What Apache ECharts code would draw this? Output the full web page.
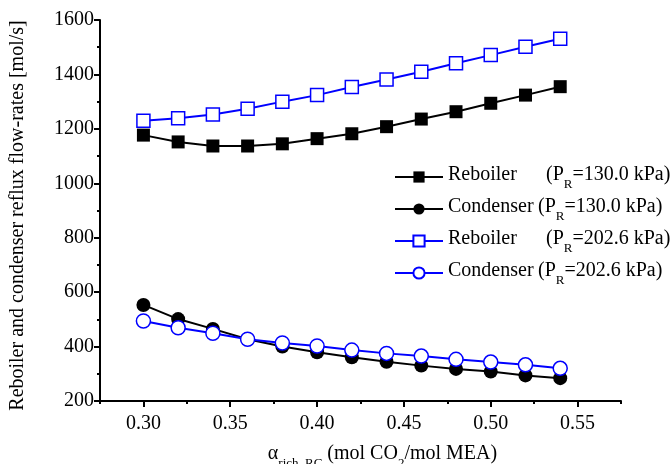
<!DOCTYPE html>
<html>
<head>
<meta charset="utf-8">
<script src="https://cdn.jsdelivr.net/npm/echarts@6/dist/echarts.min.js"></script>
<style>
  html, body { margin: 0; padding: 0; background: #fff; }
  #main { width: 670px; height: 464px; }
</style>
</head>
<body>
<div id="main"></div>
<script>
// x values (alpha rich, RC)
var alphaRich = [0.30, 0.32, 0.34, 0.36, 0.38, 0.40, 0.42, 0.44, 0.46, 0.48, 0.50, 0.52, 0.54];

// flow-rates [mol/s]
var reboiler130 = [1177, 1152, 1137, 1137, 1145, 1164, 1182, 1208, 1236, 1263, 1294, 1324, 1355];
var condenser130 = [553, 501, 465, 427, 400, 379, 361, 344, 330, 318, 308, 294, 284];
var reboiler202 = [1230, 1239, 1253, 1274, 1300, 1324, 1354, 1381, 1410, 1441, 1471, 1502, 1531];
var condenser202 = [494, 469, 449, 427, 413, 402, 387, 375, 365, 353, 343, 333, 320];

var xMajorTicks = [0.30, 0.35, 0.40, 0.45, 0.50, 0.55];
var xMinorTicks = [0.275, 0.325, 0.375, 0.425, 0.475, 0.525, 0.575];

var seriesNames = ['Reboiler 130.0', 'Condenser 130.0', 'Reboiler 202.6', 'Condenser 202.6'];

var fontFamily = '"Liberation Serif", "DejaVu Serif", serif';

function pairs(xs, ys) {
    var out = [];
    for (var i = 0; i < xs.length; i++) out.push([xs[i], ys[i]]);
    return out;
}

function makeSeries(name, data, color, symbol, filled) {
    return {
        name: name,
        type: 'line',
        data: pairs(alphaRich, data),
        symbol: symbol,
        symbolSize: symbol == 'rect' ? 13 : 14,
        showSymbol: true,
        lineStyle: { color: color, width: 2 },
        itemStyle: {
            color: filled ? color : '#fff',
            borderColor: color,
            borderWidth: filled ? 0 : 1.5
        },
        emphasis: { disabled: true },
        animation: false
    };
}

//下标样式
function subStyle(size) {
    return { fontFamily: fontFamily, fontSize: size, color: '#000', lineHeight: 12, padding: [13, 0, 0, 0], verticalAlign: 'top' };
}

var myChart = echarts.init(document.getElementById('main'), null, { renderer: 'canvas' });

var option = {
    backgroundColor: '#fff',
    textStyle: { fontFamily: fontFamily },
    grid: { left: 100, right: 49, top: 20, bottom: 63, outerBoundsMode: 'none' },
    legend: {
        orient: 'vertical',
        left: 394,
        top: 165,
        padding: 0,
        itemWidth: 48,
        itemHeight: 14,
        itemGap: 6,
        data: seriesNames,
        formatter: function(name) {
            var parts = name.split(' ');
            var key = parts[0] == 'Reboiler' ? 'nr' : 'nc';
            return '{' + key + '|' + parts[0] + '}{p|(P}{s|R}{p|=' + parts[1] + ' kPa)}';
        },
        textStyle: {
            fontFamily: fontFamily,
            fontSize: 20,
            color: '#000',
            rich: {
                nr: { fontFamily: fontFamily, fontSize: 20, width: 98, lineHeight: 24, verticalAlign: 'top' },
                nc: { fontFamily: fontFamily, fontSize: 20, width: 90, lineHeight: 24, verticalAlign: 'top' },
                p: { fontFamily: fontFamily, fontSize: 20, lineHeight: 24, verticalAlign: 'top' },
                s: subStyle(13)
            }
        }
    },
    xAxis: [{
        type: 'value',
        min: 0.275,
        max: 0.575,
        name: '{a|α}{s|rich, RC}{a| (mol CO}{s|2}{a|/mol MEA)}',
        nameLocation: 'middle',
        nameGap: 43,
        nameTextStyle: {
            padding: [0, 0, 0, 44],
            rich: {
                a: { fontFamily: fontFamily, fontSize: 20, color: '#000', lineHeight: 24, verticalAlign: 'top' },
                s: subStyle(13)
            }
        },
        axisLine: { lineStyle: { color: '#000', width: 2 } },
        axisTick: { show: true, inside: false, length: 6, lineStyle: { color: '#000', width: 2 }, customValues: xMajorTicks },
        axisLabel: {
            customValues: xMajorTicks,
            color: '#000',
            fontFamily: fontFamily,
            fontSize: 20,
            margin: 13,
            formatter: function(v) { return v.toFixed(2); }
        },
        splitLine: { show: false }
    }, {
        // 次刻度
        type: 'value',
        min: 0.275,
        max: 0.575,
        position: 'bottom',
        axisLine: { show: false },
        axisTick: { show: true, inside: false, length: 3, lineStyle: { color: '#000', width: 2 }, customValues: xMinorTicks },
        axisLabel: { show: false },
        splitLine: { show: false }
    }],
    yAxis: {
        type: 'value',
        min: 200,
        max: 1600,
        interval: 200,
        name: 'Reboiler and condenser reflux flow-rates [mol/s]',
        nameLocation: 'middle',
        nameGap: 72,
        nameTextStyle: { fontFamily: fontFamily, fontSize: 20, color: '#000', padding: [0, 10, 0, 0] },
        axisLine: { show: true, lineStyle: { color: '#000', width: 2 } },
        axisTick: { show: true, inside: false, length: 6, lineStyle: { color: '#000', width: 2 } },
        minorTick: { show: true, splitNumber: 2, length: 3, lineStyle: { color: '#000', width: 2 } },
        axisLabel: {
            color: '#000',
            fontFamily: fontFamily,
            fontSize: 20,
            margin: 6,
            formatter: function(v) { return String(v); }
        },
        splitLine: { show: false }
    },
    series: [
        makeSeries(seriesNames[0], reboiler130, '#000', 'rect', true),
        makeSeries(seriesNames[1], condenser130, '#000', 'circle', true),
        makeSeries(seriesNames[2], reboiler202, '#0000ff', 'rect', false),
        makeSeries(seriesNames[3], condenser202, '#0000ff', 'circle', false)
    ]
};

myChart.setOption(option);
</script>
</body>
</html>
